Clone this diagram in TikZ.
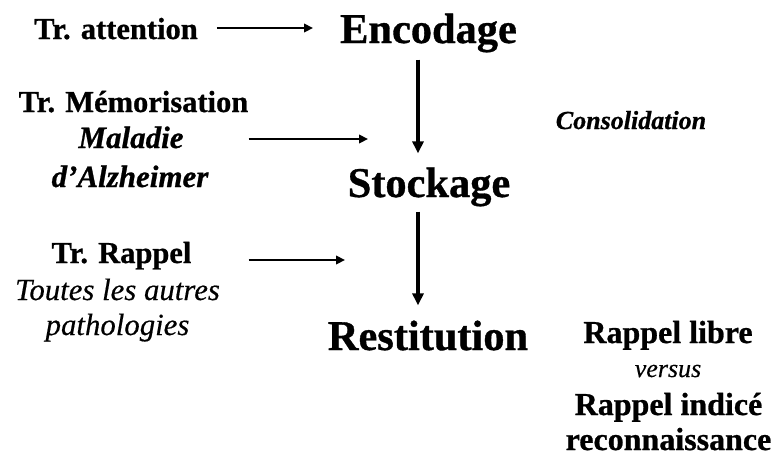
\documentclass[tikz,border=0pt]{standalone}
\usepackage{fontspec}
\setmainfont{Liberation Serif}[BoldFeatures={FakeBold=0.8},BoldItalicFeatures={FakeBold=0.8},ItalicFeatures={FakeBold=0.4}]
\usetikzlibrary{arrows.meta}
\begin{document}
\begin{tikzpicture}[x=1pt,y=-1pt,
 every node/.style={inner sep=0pt, anchor=base},
 big/.style={font=\fontsize{42.4}{50}\selectfont\bfseries},
 lab/.style={font=\fontsize{30.5}{36}\selectfont\bfseries},
 labit/.style={font=\fontsize{31}{36}\selectfont\bfseries\itshape},
 pit/.style={font=\fontsize{30.8}{36}\selectfont\itshape},
 rlab/.style={font=\fontsize{32}{36}\selectfont\bfseries},
 small/.style={font=\fontsize{26}{30}\selectfont\itshape},
 harr/.style={line width=2.8pt, -{Triangle[length=9pt,width=8.5pt]}},
 varr/.style={line width=3.6pt, -{Triangle[length=12pt,width=11pt]}}]
\useasboundingbox (0,0) rectangle (775,456);
\node[lab] (attn) at (116,39) {Tr. attention};
\node[big] (enc) at (428.5,43) {Encodage};
\node[big] (stock) at (429,197) {Stockage};
\node[big] (rest) at (428,350) {Restitution};
\node[lab] (mem) at (133.5,112) {Tr. Mémorisation};
\node[labit] (mal) at (131,148) {Maladie};
\node[labit] (alz) at (130,187) {d’Alzheimer};
\node[lab] (rap) at (121.5,263) {Tr. Rappel};
\node[pit] (tout) at (117.5,300) {Toutes les autres};
\node[pit] (path) at (117.5,335) {pathologies};
\node[small, font=\fontsize{26}{30}\selectfont\bfseries\itshape] (cons) at (631,129) {Consolidation};
\node[rlab] (rl) at (668,343) {Rappel libre};
\node[small] (vs) at (668,377) {versus};
\node[rlab] (ri) at (668.5,415) {Rappel indicé};
\node[rlab] (rec) at (668.5,450) {reconnaissance};
\coordinate (vx) at (418,0);
\coordinate (a1e) at (313,28);
\coordinate (a2e) at (368,139);
\coordinate (a3e) at (345,260);
\draw[harr, shorten <=19pt] (attn.east |- a1e) -- (a1e);
\draw[harr, shorten <=65pt] (mal.east |- a2e) -- (a2e);
\draw[harr, shorten <=57pt] (rap.east |- a3e) -- (a3e);
\draw[varr, shorten <=7pt, shorten >=14pt] (enc.south -| vx) -- (stock.north -| vx);
\draw[varr, shorten <=5pt, shorten >=15pt] (stock.south -| vx) -- (rest.north -| vx);
\end{tikzpicture}
\end{document}
